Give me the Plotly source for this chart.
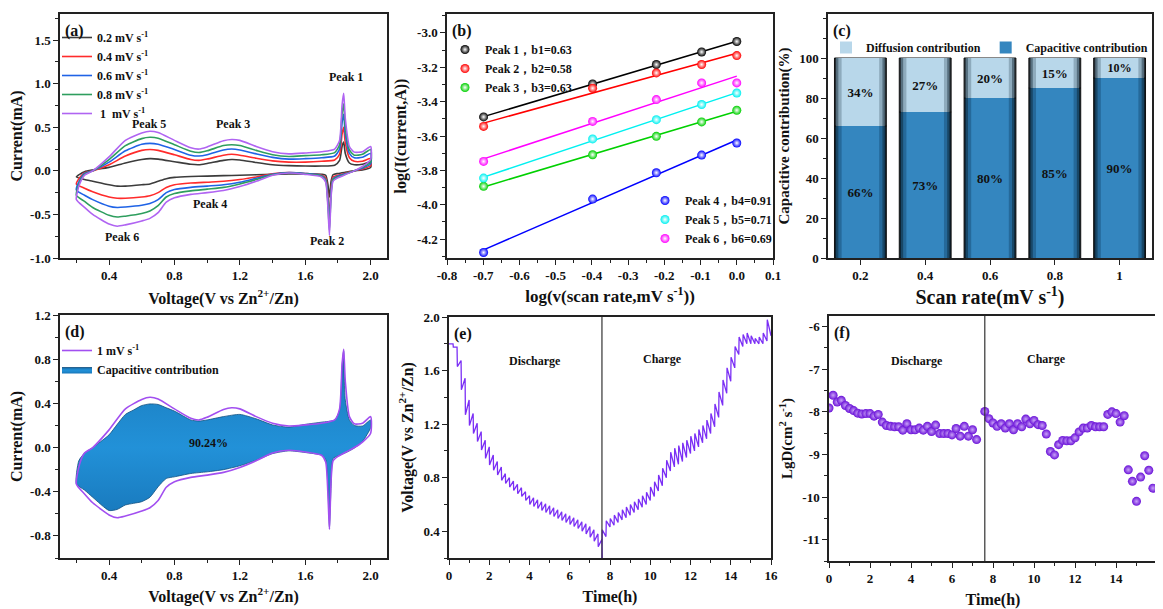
import numpy as np
import plotly.graph_objects as go

FONT = "Liberation Serif"
INK = "#1a1a1a"
# the page body keeps an 8 px margin, so the figure is made 8 px smaller than the window
OFF = 8
W, H = 1163 - OFF, 609 - OFF

# ---------------- (a) CV curves at several scan rates ----------------
scan_names = ["0.2 mV s<sup>-1</sup>", "0.4 mV s<sup>-1</sup>", "0.6 mV s<sup>-1</sup>",
              "0.8 mV s<sup>-1</sup>", " 1  mV s<sup>-1</sup>"]
scan_colors = ["#3c3c3c", "#ff2b2b", "#1f63e6", "#2e9e5e", "#b064f2"]

cv_v_up = [0.2, 0.22, 0.25, 0.3, 0.4, 0.5, 0.6, 0.65, 0.7, 0.8, 0.9, 0.95, 1.0, 1.1, 1.15,
           1.2, 1.3, 1.4, 1.5, 1.6, 1.7, 1.78, 1.81, 1.825, 1.835, 1.845, 1.87, 1.9, 1.95, 2.0]
cv_v_dn = [2.0, 1.95, 1.9, 1.85, 1.8, 1.77, 1.758, 1.748, 1.738, 1.725, 1.7, 1.6, 1.5, 1.4, 1.3,
           1.2, 1.1, 1.0, 0.9, 0.8, 0.75, 0.7, 0.65, 0.6, 0.5, 0.45, 0.4, 0.3, 0.25, 0.2]

i_up_02 = [-0.07, -0.04, -0.01, 0.01, 0.04, 0.09, 0.13, 0.14, 0.135, 0.105, 0.075, 0.07, 0.085, 0.12, 0.13,
           0.125, 0.095, 0.07, 0.06, 0.055, 0.055, 0.065, 0.12, 0.28, 0.33, 0.2, 0.09, 0.07, 0.075, 0.1]
i_up_04 = [-0.15, -0.08, -0.02, 0.0, 0.07, 0.17, 0.235, 0.245, 0.235, 0.185, 0.13, 0.12, 0.135, 0.18, 0.19,
           0.18, 0.145, 0.115, 0.1, 0.1, 0.11, 0.125, 0.19, 0.42, 0.5, 0.32, 0.15, 0.11, 0.11, 0.14]
i_up_06 = [-0.22, -0.11, -0.03, 0.0, 0.1, 0.23, 0.305, 0.315, 0.305, 0.245, 0.18, 0.17, 0.185, 0.24, 0.25,
           0.24, 0.195, 0.155, 0.135, 0.14, 0.15, 0.17, 0.25, 0.55, 0.65, 0.42, 0.2, 0.15, 0.155, 0.2]
i_up_08 = [-0.28, -0.13, -0.04, 0.0, 0.13, 0.29, 0.37, 0.385, 0.375, 0.3, 0.225, 0.21, 0.23, 0.29, 0.30,
           0.29, 0.235, 0.185, 0.165, 0.175, 0.185, 0.21, 0.3, 0.65, 0.77, 0.5, 0.24, 0.18, 0.19, 0.245]
i_up_10 = [-0.33, -0.15, -0.05, 0.0, 0.16, 0.35, 0.435, 0.455, 0.44, 0.35, 0.265, 0.25, 0.275, 0.345, 0.36,
           0.35, 0.28, 0.22, 0.195, 0.205, 0.22, 0.25, 0.35, 0.75, 0.89, 0.6, 0.28, 0.215, 0.22, 0.28]

i_dn_02 = [0.04, 0.01, 0.0, -0.015, -0.03, -0.045, -0.12, -0.3, -0.15, -0.05, -0.04, -0.035, -0.035, -0.04, -0.045,
           -0.05, -0.055, -0.06, -0.065, -0.075, -0.09, -0.12, -0.15, -0.16, -0.175, -0.175, -0.16, -0.12, -0.1, -0.07]
i_dn_04 = [0.06, 0.02, 0.0, -0.025, -0.05, -0.07, -0.2, -0.53, -0.28, -0.08, -0.05, -0.03, -0.02, -0.035, -0.07,
           -0.1, -0.12, -0.13, -0.14, -0.16, -0.19, -0.25, -0.285, -0.3, -0.315, -0.315, -0.3, -0.24, -0.2, -0.15]
i_dn_06 = [0.08, 0.03, 0.0, -0.03, -0.06, -0.09, -0.24, -0.6, -0.32, -0.1, -0.055, -0.03, -0.02, -0.04, -0.085,
           -0.13, -0.16, -0.175, -0.19, -0.215, -0.25, -0.33, -0.375, -0.395, -0.415, -0.42, -0.405, -0.33, -0.28, -0.22]
i_dn_08 = [0.1, 0.04, 0.0, -0.035, -0.07, -0.1, -0.27, -0.68, -0.36, -0.11, -0.06, -0.035, -0.025, -0.045, -0.1,
           -0.15, -0.19, -0.21, -0.23, -0.26, -0.3, -0.4, -0.46, -0.49, -0.52, -0.53, -0.51, -0.42, -0.35, -0.28]
i_dn_10 = [0.13, 0.05, 0.0, -0.04, -0.08, -0.12, -0.3, -0.74, -0.4, -0.13, -0.07, -0.04, -0.025, -0.05, -0.12,
           -0.18, -0.225, -0.25, -0.27, -0.31, -0.36, -0.48, -0.545, -0.575, -0.62, -0.635, -0.61, -0.5, -0.42, -0.33]

i_up_all = [i_up_02, i_up_04, i_up_06, i_up_08, i_up_10]
i_dn_all = [i_dn_02, i_dn_04, i_dn_06, i_dn_08, i_dn_10]

peak_labels = ["Peak 1", "Peak 2", "Peak 3", "Peak 4", "Peak 5", "Peak 6"]
peak_label_v = [1.85, 1.73, 1.16, 1.02, 0.645, 0.48]
peak_label_i = [1.08, -0.81, 0.54, -0.38, 0.54, -0.76]

# ---------------- (b) log(i) vs log(v) ----------------
log_v = [-0.699, -0.398, -0.222, -0.097, 0.0]
peak_names = ["Peak 1，b1=0.63", "Peak 2，b2=0.58", "Peak 3，b3=0.63",
              "Peak 4，b4=0.91", "Peak 5，b5=0.71", "Peak 6，b6=0.69"]
peak_colors = ["#000000", "#ff0000", "#00d000", "#0000ff", "#00f0f0", "#ff00ff"]
log_i_p1 = [-3.489, -3.297, -3.184, -3.111, -3.050]
log_i_p2 = [-3.544, -3.322, -3.233, -3.184, -3.132]
log_i_p3 = [-3.893, -3.709, -3.602, -3.518, -3.450]
log_i_p4 = [-4.278, -3.967, -3.814, -3.711, -3.641]
log_i_p5 = [-3.845, -3.617, -3.505, -3.417, -3.350]
log_i_p6 = [-3.748, -3.515, -3.388, -3.291, -3.291]
log_i_all = [log_i_p1, log_i_p2, log_i_p3, log_i_p4, log_i_p5, log_i_p6]

# ---------------- (c) contribution bars ----------------
scan_rate_cats = ["0.2", "0.4", "0.6", "0.8", "1"]
capacitive_pct = [66, 73, 80, 85, 90]
diffusion_pct = [34, 27, 20, 15, 10]

# ---------------- (d) capacitive contribution at 1 mV/s ----------------
cap_v_up = [0.2, 0.215, 0.25, 0.3, 0.35, 0.4, 0.45, 0.5, 0.55, 0.6, 0.65, 0.7, 0.75, 0.8, 0.9, 0.95,
            1.0, 1.1, 1.2, 1.3, 1.4, 1.5, 1.6, 1.7, 1.78, 1.81, 1.825, 1.835, 1.845, 1.87, 1.9, 1.95, 2.0]
cap_i_up = [-0.33, -0.12, -0.05, 0.0, 0.055, 0.115, 0.21, 0.3, 0.34, 0.38, 0.395, 0.39, 0.36, 0.33, 0.25, 0.24,
            0.25, 0.28, 0.3, 0.26, 0.205, 0.185, 0.21, 0.23, 0.25, 0.34, 0.74, 0.875, 0.43, 0.25, 0.2, 0.195, 0.25]
cap_v_dn = [2.0, 1.95, 1.9, 1.85, 1.8, 1.77, 1.758, 1.748, 1.738, 1.725, 1.7, 1.6, 1.5, 1.4, 1.3, 1.2,
            1.1, 1.0, 0.9, 0.8, 0.75, 0.7, 0.65, 0.6, 0.55, 0.5, 0.45, 0.4, 0.3, 0.25, 0.2]
cap_i_dn = [0.18, 0.055, -0.005, -0.045, -0.075, -0.1, -0.355, -0.72, -0.355, -0.11, -0.07, -0.045, -0.03,
            -0.055, -0.115, -0.165, -0.2, -0.22, -0.235, -0.265, -0.28, -0.355, -0.45, -0.49, -0.505, -0.52,
            -0.56, -0.57, -0.45, -0.385, -0.33]
cap_ratio_text = "90.24%"

# ---------------- (e) GITT voltage profile ----------------
disc_t = [0.0, 0.2, 0.4, 0.6, 0.8, 1.0, 1.2, 1.4, 1.6, 1.8, 2.0, 2.2, 2.4, 2.6, 2.8, 3.0, 3.2, 3.4, 3.6,
          3.8, 4.0, 4.2, 4.4, 4.6, 4.8, 5.0, 5.2, 5.4, 5.6, 5.8, 6.0, 6.2, 6.4, 6.6, 6.8, 7.0, 7.2, 7.4, 7.6]
disc_rest = [1.80, 1.80, 1.775, 1.675, 1.543, 1.38, 1.28, 1.206, 1.144, 1.08, 1.03, 0.97, 0.92, 0.88, 0.83,
             0.80, 0.775, 0.75, 0.725, 0.695, 0.665, 0.65, 0.635, 0.62, 0.605, 0.59, 0.575, 0.56, 0.545,
             0.53, 0.515, 0.50, 0.485, 0.47, 0.455, 0.435, 0.41, 0.38, 0.34]
disc_end = [1.80, 1.775, 1.63, 1.456, 1.27, 1.19, 1.13, 1.07, 1.006, 0.944, 0.894, 0.856, 0.82, 0.78, 0.757,
            0.73, 0.705, 0.68, 0.66, 0.63, 0.60, 0.585, 0.57, 0.555, 0.54, 0.525, 0.51, 0.495, 0.48,
            0.465, 0.45, 0.435, 0.42, 0.40, 0.38, 0.355, 0.325, 0.285, 0.20]
chg_t = [7.6, 7.8, 8.0, 8.2, 8.4, 8.6, 8.8, 9.0, 9.2, 9.4, 9.6, 9.8, 10.0, 10.2, 10.4, 10.6, 10.8, 11.0,
         11.2, 11.4, 11.6, 11.8, 12.0, 12.2, 12.4, 12.6, 12.8, 13.0, 13.2, 13.4, 13.6, 13.8, 14.0, 14.2,
         14.4, 14.6, 14.8, 15.0, 15.2, 15.4, 15.6, 15.8]
chg_rest = [0.20, 0.36, 0.432, 0.445, 0.465, 0.485, 0.50, 0.52, 0.54, 0.56, 0.58, 0.60, 0.63, 0.66, 0.70,
            0.74, 0.80, 0.85, 0.88, 0.90, 0.92, 0.95, 0.98, 1.00, 1.03, 1.06, 1.09, 1.13, 1.18, 1.25,
            1.34, 1.43, 1.52, 1.62, 1.72, 1.78, 1.80, 1.80, 1.80, 1.80, 1.80, 1.82]
chg_end = [0.41, 0.478, 0.495, 0.52, 0.54, 0.56, 0.58, 0.60, 0.62, 0.64, 0.665, 0.69, 0.73, 0.77, 0.82,
           0.87, 0.93, 0.99, 1.02, 1.04, 1.06, 1.08, 1.11, 1.13, 1.16, 1.19, 1.23, 1.28, 1.35, 1.44,
           1.53, 1.62, 1.70, 1.78, 1.85, 1.87, 1.88, 1.86, 1.84, 1.85, 1.88, 1.98]
gitt_last_t = 16.0
gitt_last_v = 1.86
switch_t = 7.6

# ---------------- (f) diffusion coefficient ----------------
lgd_t_dis = [0.0, 0.2, 0.4, 0.6, 0.8, 1.0, 1.2, 1.4, 1.6, 1.8, 2.0, 2.2, 2.4, 2.6, 2.8, 3.0, 3.2, 3.4, 3.6,
             3.8, 4.0, 4.2, 4.4, 4.6, 4.8, 5.0, 5.2, 5.4, 5.6, 5.8, 6.0, 6.2, 6.4, 6.6, 6.8, 7.0, 7.2]
lgd_dis = [-7.91, -7.61, -7.77, -7.73, -7.85, -7.92, -7.97, -8.03, -8.05, -8.04, -8.04, -8.10, -8.06,
           -8.24, -8.32, -8.34, -8.35, -8.35, -8.43, -8.28, -8.42, -8.42, -8.38, -8.43, -8.34, -8.46,
           -8.31, -8.51, -8.51, -8.51, -8.54, -8.39, -8.57, -8.34, -8.57, -8.42, -8.65]
lgd_t_chg = [7.6, 7.8, 8.0, 8.2, 8.4, 8.6, 8.8, 9.0, 9.2, 9.4, 9.6, 9.8, 10.0, 10.2, 10.4, 10.6, 10.8,
             11.0, 11.2, 11.4, 11.6, 11.8, 12.0, 12.2, 12.4, 12.6, 12.8, 13.0, 13.2, 13.4, 13.6, 13.8,
             14.0, 14.2, 14.4, 14.6, 14.8, 15.0, 15.2, 15.4, 15.6, 15.8]
lgd_chg = [-7.99, -8.16, -8.26, -8.34, -8.28, -8.38, -8.28, -8.42, -8.28, -8.35, -8.17, -8.28, -8.20,
           -8.30, -8.32, -8.52, -8.93, -9.01, -8.77, -8.67, -8.68, -8.68, -8.61, -8.47, -8.38, -8.38,
           -8.32, -8.35, -8.35, -8.35, -8.06, -8.00, -8.04, -8.24, -8.09, -9.36, -9.63, -10.10, -9.53,
           -9.03, -9.37, -9.79]

# tick values / labels
ticks_a_y = [-1.0, -0.5, 0.0, 0.5, 1.0, 1.5]
ticks_b_x = [-0.8, -0.7, -0.6, -0.5, -0.4, -0.3, -0.2, -0.1, 0.0, 0.1]
ticks_b_y = [-4.2, -4.0, -3.8, -3.6, -3.4, -3.2, -3.0]
ticks_c_y = [0, 20, 40, 60, 80, 100]
ticks_d_y = [-0.8, -0.4, 0.0, 0.4, 0.8, 1.2]
ticks_f_y = [-11, -10, -9, -8, -7, -6]


def lab(vals, fmt):
    return [fmt.format(v) for v in vals]


def px_x(p):  # screen pixel -> paper fraction
    return (p - OFF) / W


def px_y(p):
    return 1 - (p - OFF) / H


fig = go.Figure()

# (a)
for name, col, iu, idn in zip(scan_names, scan_colors, i_up_all, i_dn_all):
    fig.add_trace(go.Scatter(x=cv_v_up + cv_v_dn, y=iu + idn, mode="lines", name=name,
                             line=dict(color=col, width=1.6, shape="spline", smoothing=0.6),
                             xaxis="x", yaxis="y", legend="legend"))

# (b)
for name, col, li in zip(peak_names, peak_colors, log_i_all):
    k, b = np.polyfit(log_v, li, 1)
    xs = [min(log_v), max(log_v)]
    fig.add_trace(go.Scatter(x=xs, y=[k * xs[0] + b, k * xs[1] + b], mode="lines",
                             line=dict(color=col, width=1.5), showlegend=False,
                             xaxis="x2", yaxis="y2"))
for j, (name, col, li) in enumerate(zip(peak_names, peak_colors, log_i_all)):
    fig.add_trace(go.Scatter(x=log_v, y=li, mode="markers", name=name,
                             marker=dict(size=9, color=col, gradient=dict(type="radial", color="#ffffff"),
                                         line=dict(width=0)),
                             xaxis="x2", yaxis="y2", legend="legend2" if j < 3 else "legend3"))

# (c) layered bars imitating the shaded cylinders
cap_layers = [(0.80, "#0c202e"), (0.75, "#184767"), (0.68, "#25699a"), (0.58, "#3486bf")]
dif_layers = [(0.80, "#262e34"), (0.75, "#577080"), (0.68, "#8eabbd"), (0.58, "#b8d7ea")]
for n, ((wc, cc), (wd, cd)) in enumerate(zip(cap_layers, dif_layers)):
    last = n == len(cap_layers) - 1
    fig.add_trace(go.Bar(x=scan_rate_cats, y=capacitive_pct, width=wc, marker=dict(color=cc,
                         line=dict(color="#111111", width=1 if n == 0 else 0)),
                         name="Capacitive contribution", showlegend=last, legend="legend4",
                         legendrank=2,
                         text=[f"{v}%" for v in capacitive_pct] if last else None,
                         textposition="inside" if last else "none", insidetextanchor="middle",
                         textangle=0, textfont=dict(family=FONT, size=13, color="#111111", weight="bold"),
                         xaxis="x3", yaxis="y3", hoverinfo="skip"))
    fig.add_trace(go.Bar(x=scan_rate_cats, y=diffusion_pct, base=capacitive_pct, width=wd,
                         marker=dict(color=cd, line=dict(color="#111111", width=1 if n == 0 else 0)),
                         name="Diffusion contribution", showlegend=last, legend="legend4",
                         legendrank=1,
                         text=[f"{v}%" for v in diffusion_pct] if last else None,
                         textposition="inside" if last else "none", insidetextanchor="middle",
                         textangle=0, textfont=dict(family=FONT, size=13, color="#111111", weight="bold"),
                         xaxis="x3", yaxis="y3", hoverinfo="skip"))

# (d)
fig.add_trace(go.Scatter(x=cap_v_up + cap_v_dn, y=cap_i_up + cap_i_dn, mode="lines", fill="toself",
                         name="Capacitive contribution", legend="legend5", legendrank=2,
                         line=dict(color="#0f4f80", width=0.8, shape="spline", smoothing=0.6),
                         fillcolor="#1b7fc4",
                         fillgradient=dict(type="vertical",
                                           colorscale=[[0, "#1775b8"], [0.45, "#2291d8"],
                                                       [0.75, "#1d84c8"], [1, "#11609a"]]),
                         xaxis="x4", yaxis="y4"))
fig.add_trace(go.Scatter(x=cv_v_up + cv_v_dn, y=i_up_10 + i_dn_10, mode="lines",
                         name="1 mV s<sup>-1</sup>", legend="legend5", legendrank=1,
                         line=dict(color="#a24ff0", width=1.6, shape="spline", smoothing=0.6),
                         xaxis="x4", yaxis="y4"))

# (e) GITT sawtooth built from per-pulse rest / pulse-end voltages
dt = 0.015
gx, gy = [], []
for t, e, l in zip(disc_t, disc_rest, disc_end):
    gx += [t, t + dt]
    gy += [e, l]
for t, e, h in zip(chg_t, chg_rest, chg_end):
    gx += [t, t + dt]
    gy += [e, h]
gx.append(gitt_last_t)
gy.append(gitt_last_v)
fig.add_trace(go.Scatter(x=gx, y=gy, mode="lines", line=dict(color="#7b2ff5", width=1.3),
                         showlegend=False, xaxis="x5", yaxis="y5"))

# (f)
fig.add_trace(go.Scatter(x=lgd_t_dis + lgd_t_chg, y=lgd_dis + lgd_chg, mode="markers", showlegend=False,
                         marker=dict(size=9, color="#6a12d8", gradient=dict(type="radial", color="#c9a2f7"),
                                     line=dict(width=0)),
                         xaxis="x6", yaxis="y6"))

tickfont = dict(family=FONT, size=13, color="#111111", weight="bold")


def axis(domain, anchor, rng, title, tsize=16, standoff=8, **kw):
    d = dict(domain=domain, anchor=anchor, range=rng, showline=True, linecolor="#222222", linewidth=1.5,
             mirror=True, ticks="outside", ticklen=5, tickwidth=1.3, tickcolor="#222222",
             tickfont=tickfont, showgrid=False, zeroline=False, automargin=False,
             title=dict(text=title, font=dict(family=FONT, size=tsize, color="#111111", weight="bold"),
                        standoff=standoff))
    d.update(kw)
    return d


minor = lambda dtick: dict(ticks="outside", ticklen=3, tickwidth=1.1, tickcolor="#222222", dtick=dtick,
                           showgrid=False)

xa = [px_x(60), px_x(387)]
xb = [px_x(447), px_x(773)]
xc = [px_x(828), px_x(1152)]
xd = [px_x(60), px_x(387)]
xe = [px_x(449), px_x(771)]
xf = [px_x(829), px_x(1157)]
ytop = [px_y(258), px_y(14)]

xt_cv = "Voltage(V vs Zn<sup>2+</sup>/Zn)"

fig.update_layout(
    template="none",
    width=W, height=H, margin=dict(l=0, r=0, t=0, b=0, pad=0, autoexpand=False),
    paper_bgcolor="white", plot_bgcolor="white", barmode="overlay", hovermode=False,
    font=dict(family=FONT, color=INK),
    xaxis=axis(xa, "y", [0.1, 2.1], xt_cv, 16, 10, dtick=0.4, tick0=0.4, tickformat=".1f", minor=minor(0.2)),
    yaxis=axis(ytop, "x", [-1.0, 1.8], "Current(mA)", 16, 6, tickmode="array", tickvals=ticks_a_y,
               ticktext=lab(ticks_a_y, "{:.1f}"), minor=minor(0.25)),
    xaxis2=axis(xb, "y2", [-0.8, 0.1], "log(v(scan rate,mV s<sup>-1</sup>))", 17, 8, tickmode="array",
                tickvals=ticks_b_x, ticktext=lab(ticks_b_x, "{:.1f}"), minor=minor(0.05)),
    yaxis2=axis(ytop, "x2", [-4.31, -2.89], "log(I(current,A))", 16, 6, tickmode="array",
                tickvals=ticks_b_y, ticktext=lab(ticks_b_y, "{:.1f}"), minor=minor(0.1)),
    xaxis3=axis(xc, "y3", [-0.5, 4.5], "Scan rate(mV s<sup>-1</sup>)", 20, 8, type="category"),
    yaxis3=axis(ytop, "x3", [0, 122], "Capacitive contribution(%)", 15, 6, tickmode="array",
                tickvals=ticks_c_y, minor=minor(10)),
    xaxis4=axis(xd, "y4", [0.1, 2.1], xt_cv, 16, 8, dtick=0.4, tick0=0.4, tickformat=".1f", minor=minor(0.2)),
    yaxis4=axis([px_y(558), px_y(315)], "x4", [-1.0, 1.2], "Current(mA)", 16, 6, tickmode="array",
                tickvals=ticks_d_y, ticktext=lab(ticks_d_y, "{:.1f}"), minor=minor(0.2)),
    xaxis5=axis(xe, "y5", [0, 16], "Time(h)", 16, 8, dtick=2, minor=minor(1)),
    yaxis5=axis([px_y(558), px_y(317)], "x5", [0.2, 2.0], "Voltage(V vs Zn<sup>2+</sup>/Zn)", 16, 6,
                dtick=0.4, tick0=0.4, tickformat=".1f", minor=minor(0.2)),
    xaxis6=axis(xf, "y6", [0, 16], "Time(h)", 16, 8, dtick=2, minor=minor(1)),
    yaxis6=axis([px_y(561), px_y(316)], "x6", [-11.5, -5.75], "LgD(cm<sup>2</sup> s<sup>-1</sup>)", 15, 6,
                tickmode="array", tickvals=ticks_f_y, ticktext=lab(ticks_f_y, "{:d}"), minor=minor(0.5)),
)

legfont = dict(family=FONT, size=12, color="#111111", weight="bold")
common_leg = dict(xanchor="left", yanchor="top", bgcolor="rgba(0,0,0,0)", font=legfont,
                  tracegroupgap=0, itemwidth=30, borderwidth=0)
fig.update_layout(
    showlegend=True,
    legend=dict(x=px_x(57), y=px_y(23), **common_leg),
    legend2=dict(x=px_x(445), y=px_y(35), **common_leg),
    legend3=dict(x=px_x(645), y=px_y(186), **common_leg),
    legend4=dict(x=px_x(826), y=px_y(33), orientation="h", **common_leg),
    legend5=dict(x=px_x(57), y=px_y(336), **common_leg),
)

ann = []
panel_tags = [("(a)", "x", "y"), ("(b)", "x2", "y2"), ("(c)", "x3", "y3"),
              ("(d)", "x4", "y4"), ("(e)", "x5", "y5"), ("(f)", "x6", "y6")]
for txt, xr, yr in panel_tags:
    ann.append(dict(text=txt, xref=f"{xr} domain", yref=f"{yr} domain", x=0.008, y=0.93, xanchor="left",
                    yanchor="middle", showarrow=False,
                    font=dict(family=FONT, size=16, color="#111111", weight="bold")))
for t, v, i in zip(peak_labels, peak_label_v, peak_label_i):
    ann.append(dict(text=t, xref="x", yref="y", x=v, y=i, showarrow=False,
                    font=dict(family=FONT, size=12, color="#111111", weight="bold")))
ann.append(dict(text=cap_ratio_text, xref="x4", yref="y4", x=1.01, y=0.04, showarrow=False,
                font=dict(family=FONT, size=12, color="#111111", weight="bold")))
for xr, yr, yv in [("x5", "y5", 1.675), ("x6", "y6", -6.8)]:
    ann.append(dict(text="Discharge", xref=xr, yref=yr, x=4.27, y=yv, showarrow=False,
                    font=dict(family=FONT, size=12, color="#111111", weight="bold")))
    ann.append(dict(text="Charge", xref=xr, yref=yr, x=10.6, y=yv + 0.01 if xr == "x5" else yv + 0.04,
                    showarrow=False, font=dict(family=FONT, size=12, color="#111111", weight="bold")))
fig.update_layout(annotations=ann)

shapes = []
for xr, yr in [("x5", "y5"), ("x6", "y6")]:
    shapes.append(dict(type="line", xref=xr, yref=f"{yr} domain", x0=switch_t, x1=switch_t, y0=0, y1=1,
                       line=dict(color="#333333", width=1.2)))
fig.update_layout(shapes=shapes)

fig.write_html("out.html")
